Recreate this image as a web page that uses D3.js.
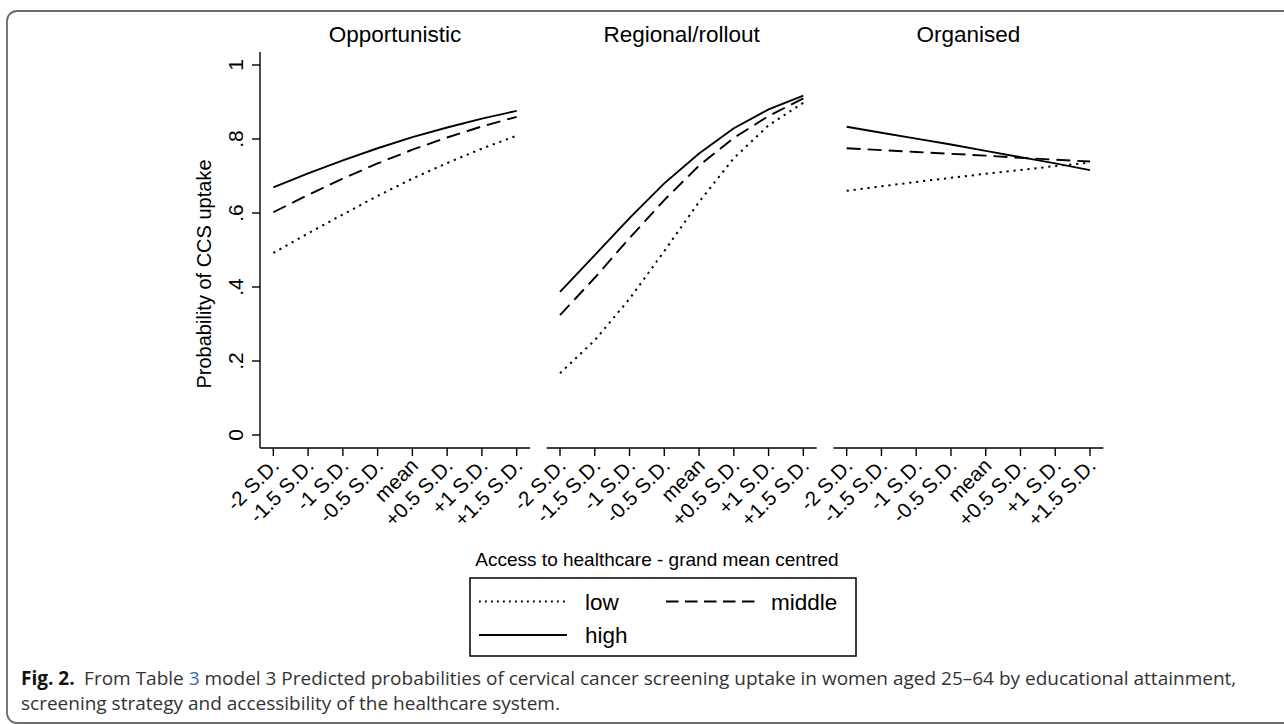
<!DOCTYPE html>
<html><head><meta charset="utf-8">
<script src="https://cdn.jsdelivr.net/npm/d3@7"></script>
<style>
html,body{margin:0;padding:0;background:#fff;}
svg{display:block;}
</style></head>
<body>
<svg id="chart" width="1284" height="724"></svg>
<script>
// ---- data ----
const categories = ["-2 S.D.","-1.5 S.D.","-1 S.D.","-0.5 S.D.","mean","+0.5 S.D.","+1 S.D.","+1.5 S.D."];
const panels = ["Opportunistic","Regional/rollout","Organised"];
const lowValues = [
  [0.492,0.545,0.596,0.646,0.693,0.735,0.774,0.809],
  [0.167,0.256,0.368,0.497,0.630,0.748,0.837,0.898],
  [0.660,0.672,0.684,0.695,0.706,0.716,0.727,0.736]
];
const middleValues = [
  [0.602,0.649,0.693,0.734,0.771,0.804,0.834,0.860],
  [0.324,0.425,0.532,0.635,0.728,0.803,0.862,0.910],
  [0.775,0.770,0.765,0.760,0.755,0.749,0.744,0.739]
];
const highValues = [
  [0.669,0.707,0.742,0.775,0.805,0.831,0.855,0.876],
  [0.387,0.486,0.586,0.680,0.761,0.829,0.880,0.917],
  [0.833,0.817,0.801,0.785,0.768,0.751,0.734,0.716]
];
const yTicks = [0,0.2,0.4,0.6,0.8,1];
const yTickLabels = ["0",".2",".4",".6",".8","1"];
const seriesNames = ["low","middle","high"];
const yTitle = "Probability of CCS uptake";
const xTitle = "Access to healthcare - grand mean centred";

// ---- layout ----
const svg = d3.select("#chart");
const FONT = "'Liberation Sans', Arial, Helvetica, sans-serif";
const dashes = {low:"2.2,4.8", middle:"14,7", high:null};
const panelX0 = 260, panelW = 270, panelGap = 16.67;
const yTop = 52, yBottom = 448;

// frame
svg.append("rect").attr("x",7).attr("y",11).attr("width",1330).attr("height",712)
  .attr("rx",10).attr("ry",10).attr("fill","none").attr("stroke","#6b6b6b").attr("stroke-width",1.8);

const y = d3.scaleLinear().domain([-0.0351,1.0351]).range([yBottom,yTop]);

// y axis
const gy = svg.append("g").attr("transform",`translate(${panelX0},0)`);
gy.append("line").attr("x1",0).attr("x2",0).attr("y1",yTop).attr("y2",yBottom)
  .attr("stroke","#000").attr("stroke-width",1.4);
yTicks.forEach((t,i)=>{
  gy.append("line").attr("x1",-8).attr("x2",0).attr("y1",y(t)).attr("y2",y(t))
    .attr("stroke","#000").attr("stroke-width",1.4);
  gy.append("text").attr("transform",`translate(-17,${y(t)}) rotate(-90)`)
    .attr("text-anchor","middle").attr("font-family",FONT).attr("font-size",21)
    .attr("fill","#000").text(yTickLabels[i]);
});
svg.append("text").attr("transform",`translate(211,274) rotate(-90)`)
  .attr("text-anchor","middle").attr("font-family",FONT).attr("font-size",20)
  .attr("fill","#000").text(yTitle);

const line = d3.line();

panels.forEach((name,p)=>{
  const x0 = panelX0 + p*(panelW+panelGap);
  const x = d3.scalePoint().domain(categories).range([x0,x0+panelW]).padding(0.3835);
  const g = svg.append("g");
  // x axis line
  g.append("line").attr("x1",x0).attr("x2",x0+panelW).attr("y1",yBottom).attr("y2",yBottom)
    .attr("stroke","#000").attr("stroke-width",1.4);
  categories.forEach(c=>{
    g.append("line").attr("x1",x(c)).attr("x2",x(c)).attr("y1",yBottom).attr("y2",yBottom+8)
      .attr("stroke","#000").attr("stroke-width",1.4);
    g.append("text").attr("transform",`translate(${x(c)+7},${yBottom+19}) rotate(-45)`)
      .attr("text-anchor","end").attr("font-family",FONT).attr("font-size",20.5)
      .attr("fill","#000").text(c);
  });
  // title
  g.append("text").attr("x",x0+panelW/2).attr("y",42).attr("text-anchor","middle")
    .attr("font-family",FONT).attr("font-size",22.5).attr("fill","#000").text(name);
  // series
  const data = {low:lowValues[p], middle:middleValues[p], high:highValues[p]};
  seriesNames.forEach(s=>{
    const pts = categories.map((c,i)=>[x(c), y(data[s][i])]);
    const path = g.append("path").attr("d",line(pts)).attr("fill","none")
      .attr("stroke","#000").attr("stroke-width",s==="low"?2:1.9);
    if(dashes[s]) path.attr("stroke-dasharray",dashes[s]);
  });
});

// x title
svg.append("text").attr("x",657).attr("y",566).attr("text-anchor","middle")
  .attr("font-family",FONT).attr("font-size",19).attr("fill","#000").text(xTitle);

// legend
const lg = svg.append("g");
lg.append("rect").attr("x",470).attr("y",578).attr("width",386).attr("height",78)
  .attr("fill","#fff").attr("stroke","#000").attr("stroke-width",1.5);
const legendItems = [
  {s:"low", x1:479, x2:567, y:601.5, tx:585},
  {s:"middle", x1:666, x2:757, y:601.5, tx:771},
  {s:"high", x1:479, x2:567, y:635, tx:585}
];
legendItems.forEach(d=>{
  const l = lg.append("line").attr("x1",d.x1).attr("x2",d.x2).attr("y1",d.y).attr("y2",d.y)
    .attr("stroke","#000").attr("stroke-width",1.8);
  if(d.s==="low") l.attr("stroke-dasharray","1.8,4.2");
  if(d.s==="middle") l.attr("stroke-dasharray","12.5,6.5");
  lg.append("text").attr("x",d.tx).attr("y",d.y+8).attr("font-family",FONT)
    .attr("font-size",22.5).attr("fill","#000").text(d.s);
});

// caption
const CAP = "'Open Sans', 'Noto Sans', sans-serif";
const cap1 = svg.append("text").attr("x",21).attr("y",685).attr("font-family",CAP)
  .attr("font-size",17).attr("fill","#333");
cap1.append("tspan").attr("font-weight","bold").attr("fill","#111").text("Fig. 2.");
cap1.append("tspan").text("\u2002From Table ");
cap1.append("tspan").attr("fill","#2b6cc0").text("3");
cap1.append("tspan").text(" model 3 Predicted probabilities of cervical cancer screening uptake in women aged 25\u201364 by educational attainment,");
const cap2 = svg.append("text").attr("x",21).attr("y",710).attr("font-family",CAP)
  .attr("font-size",17).attr("fill","#333")
  .text("screening strategy and accessibility of the healthcare system.");
// fit caption width to the reference line length
const len = cap1.node().getComputedTextLength();
const fs = 17*1216/len;
cap1.attr("font-size",fs); cap2.attr("font-size",fs);
</script>
</body></html>
